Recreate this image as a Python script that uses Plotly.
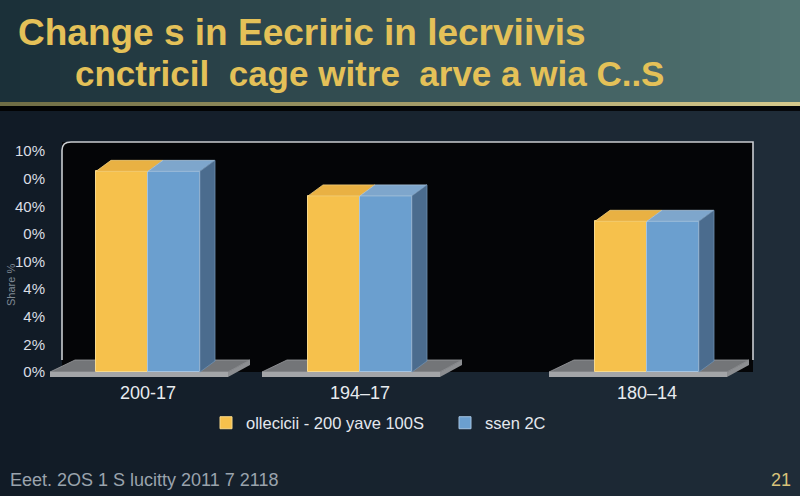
import plotly.graph_objects as go

# chart data
CATEGORIES = ["200-17", "194–17", "180–14"]
SERIES_A_NAME = "ollecicii - 200 yave 100S"
SERIES_B_NAME = "ssen 2C"
SERIES_A = [7.27, 6.38, 5.46]
SERIES_B = [7.27, 6.38, 5.46]
Y_TICK_VALS = [0, 1, 2, 3, 4, 5, 6, 7, 8]
Y_TICK_TEXT = ["0%", "2%", "4%", "4%", "10%", "0%", "40%", "0%", "10%"]
TITLE_1 = "Change s in Eecriric in lecrviivis"
TITLE_2 = "cnctricil  cage witre  arve a wia C..S"
FOOTER = "Eeet. 2OS 1 S lucitty 2011 7 2118"

# layout constants (pixels of the 800x496 canvas)
W, H = 800, 496
L, R, T, B = 50, 30, 140, 116
PX_PER_UNIT = 27.6
Y0_PX = 372
GROUP_X = [98, 310, 597]     # x-axis units (1 unit = 1 px)
BAR_W = 52
DX, DY = 15, 11 / PX_PER_UNIT

YELLOW, YELLOW_TOP = "#F6C14C", "#E9B143"
BLUE, BLUE_TOP, BLUE_SIDE = "#6B9FCF", "#7EA6CC", "#4B6C8E"

y_lo = (Y0_PX - (H - B)) / PX_PER_UNIT
y_hi = (Y0_PX - T) / PX_PER_UNIT


def px_x(px):
    return (px - L) / (W - L - R)


def px_y(py):
    return ((H - B) - py) / (H - T - B)


def mix(c0, c1, t):
    a = [int(c0[i:i + 2], 16) for i in (1, 3, 5)]
    b = [int(c1[i:i + 2], 16) for i in (1, 3, 5)]
    return "#%02x%02x%02x" % tuple(round(a[k] + (b[k] - a[k]) * t) for k in range(3))


shapes = []


def hgrad(y0, y1, c0, c1, n=40):
    for i in range(n):
        shapes.append(dict(type="rect", xref="paper", yref="paper", layer="below",
                           x0=px_x(W * i / n), x1=px_x(W * (i + 1) / n + 1),
                           y0=px_y(y1), y1=px_y(y0), line_width=0,
                           fillcolor=mix(c0, c1, i / (n - 1))))


# background bands
hgrad(0, 102, "#1b3039", "#527472")
hgrad(102, 106, "#6f6d45", "#d6c98c")
hgrad(106, 111, "#020304", "#05070a", n=2)
hgrad(111, H, "#111b26", "#1f2c38")

# frame of the plot box
fx0, fx1, fy_top, fy_bot = 12, 703, (Y0_PX - 142) / PX_PER_UNIT, 12 / PX_PER_UNIT
shapes.append(dict(type="rect", xref="x", yref="y", layer="below",
                   x0=fx0, x1=fx1, y0=0, y1=fy_top, line_width=0, fillcolor="#040507"))
shapes.append(dict(type="path", xref="x", yref="y", layer="below",
                   path=f"M {fx0},{fy_bot} L {fx0},{fy_top - 0.3} Q {fx0},{fy_top} {fx0 + 9},{fy_top} "
                        f"L {fx1},{fy_top} L {fx1},{fy_bot}",
                   line=dict(color="#c9ccd0", width=1.6)))

# floors under each group
back = 12 / PX_PER_UNIT
front_low = -5 / PX_PER_UNIT
for c in GROUP_X:
    shapes.append(dict(type="path", xref="x", yref="y", layer="below",
                       path=f"M {c - 98},0 L {c - 73},{back} L {c + 102},{back} L {c + 80},0 Z",
                       fillcolor="#737578", line=dict(color="#9a9ca0", width=0.8)))
    shapes.append(dict(type="path", xref="x", yref="y", layer="below",
                       path=f"M {c - 98},0 L {c + 80},0 L {c + 80},{front_low} L {c - 98},{front_low} Z",
                       fillcolor="#a3a5a8", line_width=0))
    shapes.append(dict(type="path", xref="x", yref="y", layer="below",
                       path=f"M {c + 80},0 L {c + 102},{back} L {c + 102},{back + front_low} L {c + 80},{front_low} Z",
                       fillcolor="#8c8e91", line_width=0))

fig = go.Figure()

fig.add_trace(go.Bar(x=[c - BAR_W / 2 for c in GROUP_X], y=SERIES_A, width=BAR_W,
                     name=SERIES_A_NAME, marker=dict(color=YELLOW, line=dict(color="#f8d98a", width=1))))
fig.add_trace(go.Bar(x=[c + BAR_W / 2 for c in GROUP_X], y=SERIES_B, width=BAR_W,
                     name=SERIES_B_NAME, marker=dict(color=BLUE, line=dict(color="#a4c4e2", width=1))))

# 3d top and side faces
for c, va, vb in zip(GROUP_X, SERIES_A, SERIES_B):
    xl, xr = c - BAR_W, c + BAR_W
    fig.add_trace(go.Scatter(x=[xl, xl + DX, c + DX, c, xl], y=[va, va + DY, va + DY, va, va],
                             fill="toself", fillcolor=YELLOW_TOP, mode="lines",
                             line=dict(color="#f3cf7a", width=0.8), showlegend=False, hoverinfo="skip"))
    fig.add_trace(go.Scatter(x=[c, c + DX, xr + DX, xr, c], y=[vb, vb + DY, vb + DY, vb, vb],
                             fill="toself", fillcolor=BLUE_TOP, mode="lines",
                             line=dict(color="#a8c3dc", width=0.8), showlegend=False, hoverinfo="skip"))
    fig.add_trace(go.Scatter(x=[xr, xr + DX, xr + DX, xr, xr], y=[0, DY, vb + DY, vb, 0],
                             fill="toself", fillcolor=BLUE_SIDE, mode="lines",
                             line=dict(color="#6f8fb0", width=0.8), showlegend=False, hoverinfo="skip"))

annotations = [
    dict(text=f"<b>{TITLE_1}</b>", x=px_x(16), y=px_y(32), xanchor="left", yanchor="middle",
         font=dict(family="Liberation Sans, Arial", size=37, color="#E4C158")),
    dict(text=f"<b>{TITLE_2}</b>", x=px_x(73), y=px_y(73), xanchor="left", yanchor="middle",
         font=dict(family="Liberation Sans, Arial", size=35, color="#E4C158")),
    dict(text=FOOTER, x=px_x(8), y=px_y(480), xanchor="left", yanchor="middle",
         font=dict(family="Liberation Sans, Arial", size=18, color="#9aa3ad")),
    dict(text="21", x=px_x(769), y=px_y(480), xanchor="left", yanchor="middle",
         font=dict(family="Liberation Sans, Arial", size=18, color="#d8c27a")),
    dict(text="Share %", x=px_x(11), y=px_y(285), xanchor="center", yanchor="middle", textangle=-90,
         font=dict(family="Liberation Sans, Arial", size=11, color="#7f8994")),
]
for a in annotations:
    a.update(xref="paper", yref="paper", showarrow=False)

fig.update_layout(
    width=W, height=H,
    margin=dict(l=L, r=R, t=T, b=B),
    paper_bgcolor="#141e29", plot_bgcolor="rgba(0,0,0,0)",
    barmode="overlay", bargap=0,
    shapes=shapes, annotations=annotations,
    showlegend=True,
    legend=dict(orientation="h", x=px_x(206), y=px_y(423), xanchor="left", yanchor="middle",
                entrywidth=194, bgcolor="rgba(0,0,0,0)",
                font=dict(family="Liberation Sans, Arial", size=16.5, color="#e4e8ee"),
                itemclick=False),
    xaxis=dict(range=[0, W - L - R], tickvals=GROUP_X, ticktext=CATEGORIES, showgrid=False,
               zeroline=False, showline=False, ticks="", fixedrange=True,
               tickfont=dict(family="Liberation Sans, Arial", size=18, color="#e8ebef")),
    yaxis=dict(range=[y_lo, y_hi], tickvals=Y_TICK_VALS, ticktext=Y_TICK_TEXT, showgrid=False,
               zeroline=False, showline=False, ticks="", fixedrange=True, ticklabelstandoff=4,
               tickfont=dict(family="Liberation Sans, Arial", size=15, color="#dadee4")),
)

fig.write_html("out.html", config={"displayModeBar": False},
               post_script="document.body.style.margin='0';document.body.style.background='#141e29';")
